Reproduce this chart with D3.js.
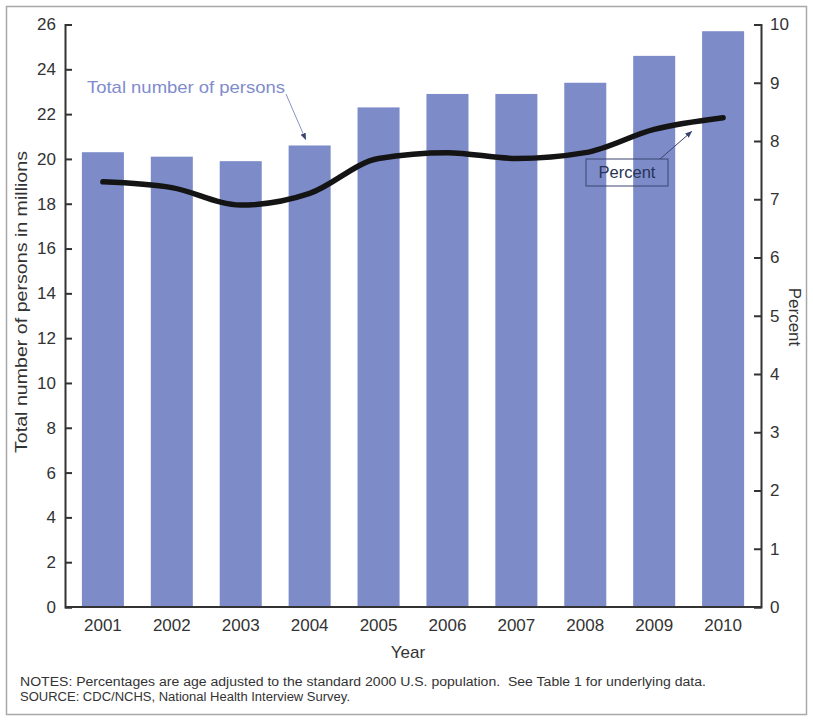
<!DOCTYPE html>
<html>
<head>
<meta charset="utf-8">
<script src="https://cdn.jsdelivr.net/npm/d3@7"></script>
<style>
  html, body { margin: 0; padding: 0; background: #fff; }
  svg { display: block; font-family: "Liberation Sans", Arial, Helvetica, sans-serif; }
</style>
</head>
<body>
<svg id="chart" width="813" height="721"></svg>
<script>
const years = ["2001","2002","2003","2004","2005","2006","2007","2008","2009","2010"];
const persons = [20.3, 20.1, 19.9, 20.6, 22.3, 22.9, 22.9, 23.4, 24.6, 25.7];
const percent = [7.3, 7.2, 6.9, 7.1, 7.7, 7.8, 7.7, 7.8, 8.2, 8.4];
const leftTicks = [0,2,4,6,8,10,12,14,16,18,20,22,24,26];
const rightTicks = [0,1,2,3,4,5,6,7,8,9,10];

const svg = d3.select("#chart");
const W = 813, H = 721;
const m = { left: 65, right: 761, top: 24.5, bottom: 607 };
const axisColor = "#333";
const barColor = "#7d8cc9";

// outer frame
svg.append("rect").attr("x", 6.5).attr("y", 6.5).attr("width", W - 13).attr("height", H - 13)
  .attr("fill", "#fff").attr("stroke", "#a8a8a8").attr("stroke-width", 1.5);

const x = d3.scaleBand().domain(years).range([m.left, m.right]).paddingInner(0.39).paddingOuter(0.245);
const yL = d3.scaleLinear().domain([0, 26]).range([m.bottom, m.top]);
const yR = d3.scaleLinear().domain([0, 10]).range([m.bottom, m.top]);

// bars
svg.append("g").selectAll("rect").data(years).join("rect")
  .attr("x", d => x(d))
  .attr("width", x.bandwidth())
  .attr("y", (d, i) => yL(persons[i]))
  .attr("height", (d, i) => m.bottom - yL(persons[i]))
  .attr("fill", barColor);

// left axis
const gL = svg.append("g").attr("transform", `translate(${m.left},0)`)
  .call(d3.axisLeft(yL).tickValues(leftTicks).tickSize(-7).tickSizeOuter(-7).tickPadding(9).tickFormat(d3.format("d")));
// right axis
const gR = svg.append("g").attr("transform", `translate(${m.right},0)`)
  .call(d3.axisRight(yR).tickValues(rightTicks).tickSize(-7).tickSizeOuter(-7).tickPadding(9).tickFormat(d3.format("d")));
// bottom axis
const gB = svg.append("g").attr("transform", `translate(0,${m.bottom})`)
  .call(d3.axisBottom(x).tickSize(0).tickPadding(12));
gB.select(".domain").remove();
svg.append("line").attr("x1", m.left).attr("x2", m.right).attr("y1", m.bottom).attr("y2", m.bottom)
  .attr("stroke", axisColor).attr("stroke-width", 2);

[gL, gR, gB].forEach(g => {
  g.selectAll(".domain").attr("stroke", axisColor).attr("stroke-width", 2);
  g.selectAll(".tick line").attr("stroke", axisColor).attr("stroke-width", 2);
  g.selectAll(".tick text").attr("fill", "#333").attr("font-size", 17)
    .attr("font-family", "\"Liberation Sans\", Arial, sans-serif");
});

// percent line
const line = d3.line()
  .x((d, i) => x(years[i]) + x.bandwidth() / 2)
  .y(d => yR(d))
  .curve(d3.curveMonotoneX);
svg.append("path").datum(percent).attr("d", line)
  .attr("fill", "none").attr("stroke", "#141414").attr("stroke-width", 5.5)
  .attr("stroke-linecap", "round").attr("stroke-linejoin", "round");

// arrow marker
const defs = svg.append("defs");
defs.append("marker").attr("id", "arr").attr("viewBox", "0 0 10 10").attr("refX", 9).attr("refY", 5)
  .attr("markerWidth", 7).attr("markerHeight", 7).attr("orient", "auto-start-reverse")
  .append("path").attr("d", "M0,1 L10,5 L0,9 Z").attr("fill", "#3a4470");

// annotation: Total number of persons
const c2004 = x("2004") + x.bandwidth() / 2;
svg.append("text").attr("x", 87).attr("y", 93).attr("fill", "#7f8ccc").attr("font-size", 17)
  .attr("textLength", 198).attr("lengthAdjust", "spacingAndGlyphs")
  .text("Total number of persons");
svg.append("line").attr("x1", 286).attr("y1", 94).attr("x2", c2004 - 4).attr("y2", yL(persons[3]) - 6)
  .attr("stroke", "#8a93c0").attr("stroke-width", 1).attr("marker-end", "url(#arr)");

// annotation: Percent box
const boxX = 586, boxY = 159, boxW = 82, boxH = 27;
svg.append("rect").attr("x", boxX).attr("y", boxY).attr("width", boxW).attr("height", boxH)
  .attr("fill", "none").attr("stroke", "#3a4470").attr("stroke-width", 1);
svg.append("text").attr("x", boxX + boxW / 2).attr("y", boxY + 19).attr("text-anchor", "middle")
  .attr("fill", "#2a3358").attr("font-size", 16.5).text("Percent");
const tipX = (x("2009") + x("2010")) / 2 + x.bandwidth() / 2 + 3;
const tipY = yR((percent[8] + percent[9]) / 2) + 8;
svg.append("line").attr("x1", boxX + boxW - 8).attr("y1", boxY).attr("x2", tipX).attr("y2", tipY)
  .attr("stroke", "#3a4470").attr("stroke-width", 1).attr("marker-end", "url(#arr)");

// axis titles
svg.append("text").attr("transform", "translate(27,302) rotate(-90)").attr("text-anchor", "middle")
  .attr("fill", "#333").attr("font-size", 17).attr("textLength", 302).attr("lengthAdjust", "spacingAndGlyphs")
  .text("Total number of persons in millions");
svg.append("text").attr("transform", "translate(789,317) rotate(90)").attr("text-anchor", "middle")
  .attr("fill", "#333").attr("font-size", 17).text("Percent");
svg.append("text").attr("x", 408).attr("y", 658).attr("text-anchor", "middle")
  .attr("fill", "#333").attr("font-size", 17).text("Year");

// notes
svg.append("text").attr("x", 20).attr("y", 686).attr("fill", "#333").attr("font-size", 12.5)
  .attr("textLength", 686).attr("lengthAdjust", "spacingAndGlyphs")
  .attr("xml:space", "preserve")
  .text("NOTES: Percentages are age adjusted to the standard 2000 U.S. population.  See Table 1 for underlying data.");
svg.append("text").attr("x", 20).attr("y", 701).attr("fill", "#333").attr("font-size", 12.5)
  .attr("textLength", 330).attr("lengthAdjust", "spacingAndGlyphs")
  .text("SOURCE: CDC/NCHS, National Health Interview Survey.");
</script>
</body>
</html>
